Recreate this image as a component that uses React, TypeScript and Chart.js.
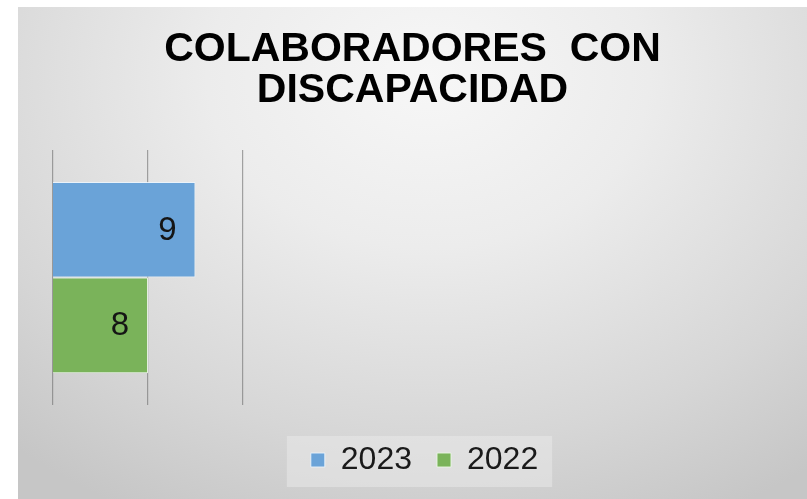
import React, { useEffect, useRef } from "react";
import { Chart, registerables } from "chart.js";

Chart.register(...registerables);

const categories = [""];
const seriesNames = ["2023", "2022"];
const values2023 = [9];
const values2022 = [8];
const titleLines = ["COLABORADORES  CON", "DISCAPACIDAD"];
const axisMin = 6;
const axisMax = 10;
const axisStep = 2;
const seriesColors = ["#6aa3d8", "#7ab35a"];

const FONT = "'Liberation Sans', Arial, Helvetica, sans-serif";

const barLabelPlugin = {
  id: "barLabels",
  afterDatasetsDraw(chart: any) {
    const ctx = chart.ctx;
    ctx.save();
    ctx.font = `33px ${FONT}`;
    ctx.fillStyle = "#151515";
    ctx.textAlign = "right";
    ctx.textBaseline = "middle";
    chart.data.datasets.forEach((ds: any, i: number) => {
      const meta = chart.getDatasetMeta(i);
      meta.data.forEach((el: any, j: number) => {
        ctx.fillText(String(ds.data[j]), el.x - 19, el.y + 1);
      });
    });
    ctx.restore();
  },
};

const legendPlugin = {
  id: "legendTweak",
  afterLayout(chart: any) {
    const lg = chart.legend;
    if (lg) {
      lg.left += 12;
      lg.right += 12;
    }
  },
  beforeDraw(chart: any) {
    const lg = chart.legend;
    if (!lg || !lg.legendHitBoxes || !lg.legendHitBoxes.length) return;
    const hb = lg.legendHitBoxes;
    const first = hb[0];
    const last = hb[hb.length - 1];
    const ctx = chart.ctx;
    ctx.save();
    ctx.fillStyle = "rgba(238,238,238,0.45)";
    const left = first.left - 24;
    const right = last.left + last.width + 14;
    const top = first.top - 8;
    const bottom = first.top + first.height + 11;
    ctx.fillRect(left, top, right - left, bottom - top);
    ctx.restore();
  },
};

export default function App() {
  const canvasRef = useRef<HTMLCanvasElement | null>(null);

  useEffect(() => {
    if (!canvasRef.current) return;
    const chart = new Chart(canvasRef.current, {
      type: "bar",
      data: {
        labels: categories,
        datasets: [
          {
            label: seriesNames[0],
            data: values2023,
            backgroundColor: seriesColors[0],
            borderColor: "rgba(235,244,252,0.9)",
            borderWidth: 1,
          },
          {
            label: seriesNames[1],
            data: values2022,
            backgroundColor: seriesColors[1],
            borderColor: "rgba(235,248,230,0.9)",
            borderWidth: 1,
          },
        ],
      },
      options: {
        indexAxis: "y",
        animation: false,
        responsive: true,
        maintainAspectRatio: false,
        layout: { padding: { top: 0, bottom: 13, left: 0, right: 0 } },
        datasets: {
          bar: { barPercentage: 1, categoryPercentage: 0.75 },
        },
        scales: {
          x: {
            type: "linear",
            min: axisMin,
            max: axisMax,
            z: 1,
            ticks: { display: false, stepSize: axisStep },
            grid: { color: "rgba(110,110,110,0.6)", lineWidth: 1.2, drawTicks: false },
            border: { display: false },
            afterFit(s: any) {
              s.height = 14;
            },
          },
          y: {
            type: "category",
            ticks: { display: false },
            grid: { display: false, drawTicks: false },
            border: { display: false },
            afterFit(s: any) {
              s.width = 35;
            },
          },
          y2: {
            type: "linear",
            position: "right",
            ticks: { display: false },
            grid: { display: false, drawTicks: false },
            border: { display: false },
            afterFit(s: any) {
              s.width = 564;
            },
          },
        },
        plugins: {
          title: {
            display: true,
            text: titleLines,
            color: "#000",
            font: { family: FONT, size: 41, weight: "bold", lineHeight: 1 },
            padding: { top: 22, bottom: 39 },
          },
          legend: {
            display: true,
            position: "bottom",
            labels: {
              boxWidth: 14,
              boxHeight: 14,
              padding: 25,
              color: "#1a1a1a",
              font: { family: FONT, size: 32 },
            },
          },
          tooltip: { enabled: false },
        },
      },
      plugins: [barLabelPlugin, legendPlugin],
    } as any);
    return () => chart.destroy();
  }, []);

  return (
    <div
      style={{
        position: "absolute",
        left: 18,
        top: 7,
        width: 789,
        height: 492,
        background:
          "radial-gradient(ellipse 80% 100% at 52% 14%, #f7f7f7 0%, #ececec 35%, #d6d6d6 75%, #c6c6c6 100%)",
      }}
    >
      <canvas ref={canvasRef} />
    </div>
  );
}
